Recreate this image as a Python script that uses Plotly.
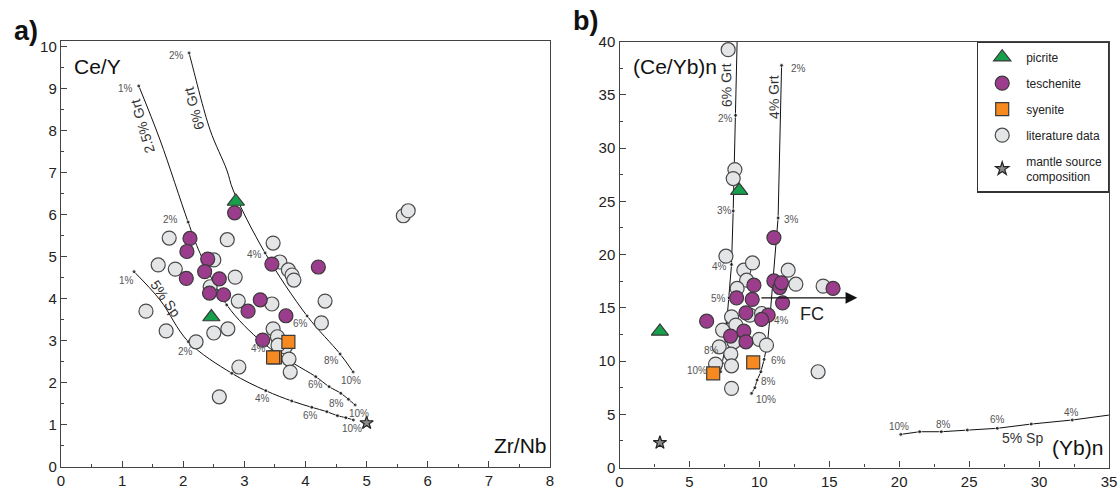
import plotly.graph_objects as go

# ---------------- Panel a) Ce/Y vs Zr/Nb ----------------
a_lit_x = [1.77, 2.72, 3.47, 1.59, 1.87, 2.50, 3.58, 3.72, 3.78, 3.81, 2.85, 2.44, 2.90, 3.45, 1.39,
           4.32, 4.26, 1.72, 2.50, 2.73, 2.21, 3.47, 3.54, 3.67, 3.73, 3.75, 2.91, 2.59, 5.60, 5.68, 3.55]
a_lit_y = [5.45, 5.41, 5.33, 4.81, 4.71, 4.93, 4.88, 4.69, 4.57, 4.45, 4.52, 4.29, 3.95, 3.88, 3.71,
           3.95, 3.43, 3.24, 3.19, 3.29, 2.98, 3.29, 3.10, 2.86, 2.57, 2.26, 2.38, 1.67, 5.98, 6.10, 2.90]
a_tes_x = [2.84, 2.11, 2.06, 2.40, 3.45, 2.35, 2.59, 2.05, 2.43, 2.66, 3.26, 3.06, 3.68, 3.30, 4.21]
a_tes_y = [6.05, 5.44, 5.13, 4.95, 4.83, 4.65, 4.48, 4.49, 4.14, 4.10, 3.98, 3.71, 3.60, 3.02, 4.76]
a_pic_x = [2.86, 2.46]
a_pic_y = [6.32, 3.57]
a_sye_x = [3.50, 3.47, 3.72]
a_sye_y = [2.61, 2.61, 2.98]
a_src_x = [5.0]
a_src_y = [1.05]

# model melting curves (panel a)
a_grt6_x = [2.095, 2.139, 2.439, 2.712, 2.815, 3.339, 4.026, 4.566, 4.779]
a_grt6_y = [9.857, 9.612, 8.024, 7.071, 6.595, 5.095, 3.595, 2.690, 2.262]
a_grt6_dots = [0, 5, 6, 7, 8]
a_grt25_x = [1.272, 1.620, 2.080, 2.275, 2.712, 3.306, 3.802, 4.168, 4.386, 4.578, 4.702, 4.812]
a_grt25_y = [9.071, 7.786, 5.830, 5.088, 3.857, 2.952, 2.469, 2.150, 1.912, 1.755, 1.612, 1.476]
a_grt25_dots = [0, 2, 4, 5, 7, 8, 9, 10, 11]
a_sp5_x = [1.195, 1.620, 2.083, 2.794, 3.350, 3.776, 4.103, 4.349, 4.522, 4.660, 4.784]
a_sp5_y = [4.650, 3.976, 2.983, 2.231, 1.817, 1.571, 1.421, 1.317, 1.221, 1.174, 1.119]
a_sp5_dots = [0, 2, 3, 4, 5, 6, 7, 8, 9, 10]

a_pct_text = ["2%", "4%", "6%", "8%", "10%",
              "1%", "2%", "4%", "6%", "8%", "10%",
              "1%", "2%", "4%", "6%", "10%"]
a_pct_x = [1.894, 3.164, 3.912, 4.430, 4.746,
           1.059, 1.784, 3.229, 4.157, 4.501, 4.882,
           1.075, 2.029, 3.301, 4.087, 4.768]
a_pct_y = [9.786, 5.064, 3.421, 2.524, 2.048,
           9.007, 5.881, 2.826, 1.952, 1.517, 1.279,
           4.436, 2.745, 1.619, 1.221, 0.921]
a_curve_names = ["2.5% Grt", "6% Grt", "5% Sp"]
a_curve_lx = [1.33, 2.177, 1.702]
a_curve_ly = [8.10, 8.540, 4.017]
a_curve_ang = [-106, -105, 55]

# ---------------- Panel b) (Ce/Yb)n vs (Yb)n ----------------
b_lit_x = [7.77, 8.25, 8.13, 7.61, 8.89, 9.51, 9.09, 8.41, 12.06, 12.61, 14.56, 8.01, 8.32, 7.37, 8.18,
           9.32, 10.16, 9.99, 10.51, 7.13, 7.96, 6.87, 8.01, 8.01, 14.20]
b_lit_y = [39.23, 27.97, 27.13, 19.84, 18.53, 19.21, 17.59, 16.81, 18.53, 17.21, 17.03, 14.15, 13.37, 12.90, 11.80,
           14.31, 14.46, 12.03, 11.49, 11.33, 10.65, 9.71, 9.55, 7.43, 8.99]
b_tes_x = [11.04, 6.23, 8.37, 9.49, 9.61, 11.04, 11.46, 11.58, 11.66, 9.04, 10.63, 10.16, 8.89, 7.94, 9.04, 15.27]
b_tes_y = [21.59, 13.74, 15.93, 15.78, 17.12, 17.52, 16.90, 17.34, 15.46, 14.52, 14.31, 13.90, 12.80, 12.34, 11.80, 16.81]
b_pic_x = [8.56, 2.89]
b_pic_y = [26.0, 12.78]
b_sye_x = [6.70, 9.56]
b_sye_y = [8.84, 9.87]
b_src_x = [2.89]
b_src_y = [2.33]

b_grt6_x = [8.41, 8.30, 8.13, 8.01, 7.84, 7.66, 7.49, 7.36, 7.23]
b_grt6_y = [40.0, 33.07, 24.09, 19.06, 15.93, 13.53, 10.86, 9.80, 8.99]
b_grt4_x = [11.59, 11.34, 10.75, 10.59, 10.34, 10.11, 9.84, 9.68, 9.44]
b_grt4_y = [37.76, 23.43, 14.00, 11.80, 10.15, 8.99, 8.21, 7.49, 6.96]
b_sp5_x = [20.11, 21.46, 23.01, 24.87, 27.01, 29.44, 32.37, 34.99]
b_sp5_y = [3.11, 3.36, 3.36, 3.52, 3.68, 4.08, 4.46, 4.92]

b_pct_text = ["2%", "3%", "4%", "5%", "8%", "10%",
              "2%", "3%", "4%", "6%", "8%", "10%",
              "10%", "8%", "6%", "4%"]
b_pct_x = [7.59, 7.54, 7.13, 7.11, 6.59, 5.56,
           12.77, 12.30, 11.59, 11.34, 10.63, 10.51,
           19.99, 23.20, 27.06, 32.34]
b_pct_y = [32.76, 24.16, 18.84, 15.87, 11.02, 9.08,
           37.45, 23.28, 13.77, 10.02, 8.05, 6.40,
           3.83, 4.08, 4.52, 5.14]
b_curve_names = ["6% Grt", "4% Grt", "5% Sp"]
b_curve_lx = [7.66, 11.04, 28.82]
b_curve_ly = [35.88, 34.78, 2.77]
b_curve_ang = [-91, -91, 0]
fc_start = (10.04, 15.93)
fc_end = (17.0, 15.93)

# ---------------- styles ----------------
FONT = "Liberation Sans, Arial, sans-serif"
GREEN = "#17a04b"
PURPLE = "#9b3d8c"
ORANGE = "#f68a20"
LGREY = "#e4e5e7"
EDGE = "#3a3a3a"

fig = go.Figure()


def curve(xs, ys, dots, xa, ya, spline=True):
    sizes = [4 if i in dots else 0 for i in range(len(xs))]
    fig.add_trace(go.Scatter(
        x=xs, y=ys, xaxis=xa, yaxis=ya, mode="lines+markers",
        line=dict(color="#111", width=1, shape="spline" if spline else "linear"),
        marker=dict(size=sizes, color="#111"),
        showlegend=False, hoverinfo="skip", cliponaxis=True))


curve(a_grt6_x, a_grt6_y, a_grt6_dots, "x", "y")
curve(a_grt25_x, a_grt25_y, a_grt25_dots, "x", "y")
curve(a_sp5_x, a_sp5_y, a_sp5_dots, "x", "y")
curve(b_grt6_x, b_grt6_y, list(range(1, len(b_grt6_x))), "x2", "y2", spline=False)
curve(b_grt4_x, b_grt4_y, list(range(len(b_grt4_x))), "x2", "y2", spline=False)
curve(b_sp5_x, b_sp5_y, list(range(len(b_sp5_x) - 1)), "x2", "y2", spline=False)

groups = [
    ("literature data", "circle", LGREY, "#4a4a4a", 14, a_lit_x, a_lit_y, b_lit_x, b_lit_y, 4),
    ("teschenite", "circle", PURPLE, EDGE, 14, a_tes_x, a_tes_y, b_tes_x, b_tes_y, 2),
    ("picrite", "triangle-up", GREEN, EDGE, 15, a_pic_x, a_pic_y, b_pic_x, b_pic_y, 1),
    ("syenite", "square", ORANGE, EDGE, 13, a_sye_x, a_sye_y, b_sye_x, b_sye_y, 3),
    ("mantle source<br>composition", "star", "#8a8a8a", "#222", 10, a_src_x, a_src_y, b_src_x, b_src_y, 5),
]
for name, sym, fill, edge, size, ax_, ay_, bx_, by_, rank in groups:
    mk = dict(symbol=sym, color=fill, size=size, line=dict(color=edge, width=1.2))
    fig.add_trace(go.Scatter(x=ax_, y=ay_, xaxis="x", yaxis="y", mode="markers", marker=mk,
                             name=name, legendgroup=name, showlegend=False, hoverinfo="skip"))
    fig.add_trace(go.Scatter(x=bx_, y=by_, xaxis="x2", yaxis="y2", mode="markers", marker=mk,
                             name=name, legendgroup=name, showlegend=True, legendrank=rank,
                             hoverinfo="skip"))

ann = []
for t, x, y in zip(a_pct_text, a_pct_x, a_pct_y):
    ann.append(dict(text=t, x=x, y=y, xref="x", yref="y", showarrow=False,
                    font=dict(size=10, color="#555", family=FONT)))
for t, x, y in zip(b_pct_text, b_pct_x, b_pct_y):
    ann.append(dict(text=t, x=x, y=y, xref="x2", yref="y2", showarrow=False,
                    font=dict(size=10, color="#555", family=FONT)))
for t, x, y, a in zip(a_curve_names, a_curve_lx, a_curve_ly, a_curve_ang):
    ann.append(dict(text=t, x=x, y=y, xref="x", yref="y", showarrow=False, textangle=a,
                    font=dict(size=14, color="#333", family=FONT)))
for t, x, y, a in zip(b_curve_names, b_curve_lx, b_curve_ly, b_curve_ang):
    ann.append(dict(text=t, x=x, y=y, xref="x2", yref="y2", showarrow=False, textangle=a,
                    font=dict(size=14, color="#333", family=FONT)))

# FC arrow
ann.append(dict(x=fc_end[0], y=fc_end[1], ax=fc_start[0], ay=fc_start[1], xref="x2", yref="y2",
                axref="x2", ayref="y2", showarrow=True, arrowhead=2, arrowsize=1.8,
                arrowwidth=1.3, arrowcolor="#111", text=""))
ann.append(dict(text="FC", x=13.77, y=14.40, xref="x2", yref="y2", showarrow=False,
                font=dict(size=18, color="#222", family=FONT)))

# axis titles (inside frame) and panel letters
W, H = 1120, 491
def paper(px, py):
    return px / W, 1 - py / H

for t, (px, py), sz, bold in [("Ce/Y", (97.5, 66), 21, False), ("Zr/Nb", (520.5, 445), 21, False),
                                ("(Ce/Yb)n", (674.5, 66), 21, False), ("(Yb)n", (1077, 447), 21, False),
                                ("a)", (26, 31), 27, True), ("b)", (585, 21), 27, True)]:
    xx, yy = paper(px, py)
    ann.append(dict(text=("<b>%s</b>" % t) if bold else t, x=xx, y=yy, xref="paper", yref="paper",
                    showarrow=False, xanchor="center", yanchor="middle",
                    font=dict(size=sz, color="#111", family=FONT)))

axis_common = dict(showline=True, linecolor="#444", linewidth=1.4, mirror=True, ticks="inside",
                   ticklen=6, tickwidth=1.2, tickcolor="#444", showgrid=False, zeroline=False,
                   automargin=False,
                   tickfont=dict(size=15, color="#222", family=FONT))

fig.update_layout(
    template="none",
    width=W, height=H, margin=dict(l=0, r=0, t=0, b=0, autoexpand=False),
    paper_bgcolor="white", plot_bgcolor="white",
    font=dict(family=FONT, color="#222"),
    xaxis=dict(domain=[61 / W, 550 / W], range=[0, 8], dtick=1, anchor="y",
               minor=dict(dtick=0.5, ticklen=3, ticks="inside", tickcolor="#444"), **axis_common),
    yaxis=dict(domain=[1 - 467 / H, 1 - 41 / H], range=[0, 10.14], dtick=1, anchor="x",
               minor=dict(dtick=0.5, ticklen=3, ticks="inside", tickcolor="#444"), **axis_common),
    xaxis2=dict(domain=[619.5 / W, 1109 / W], range=[0, 35], dtick=5, anchor="y2",
                minor=dict(dtick=2.5, ticklen=3, ticks="inside", tickcolor="#444"), **axis_common),
    yaxis2=dict(domain=[1 - 467.5 / H, 1 - 41.5 / H], range=[0, 40], dtick=5, anchor="x2",
                minor=dict(dtick=2.5, ticklen=3, ticks="inside", tickcolor="#444"), **axis_common),
    legend=dict(x=1109 / W, y=1 - 41.5 / H, xanchor="right", yanchor="top",
                bordercolor="#333", borderwidth=1.2, bgcolor="white",
                font=dict(size=12, color="#222", family=FONT), tracegroupgap=7,
                itemsizing="trace", itemwidth=38),
    annotations=ann,
)

fig.write_html("out.html")
